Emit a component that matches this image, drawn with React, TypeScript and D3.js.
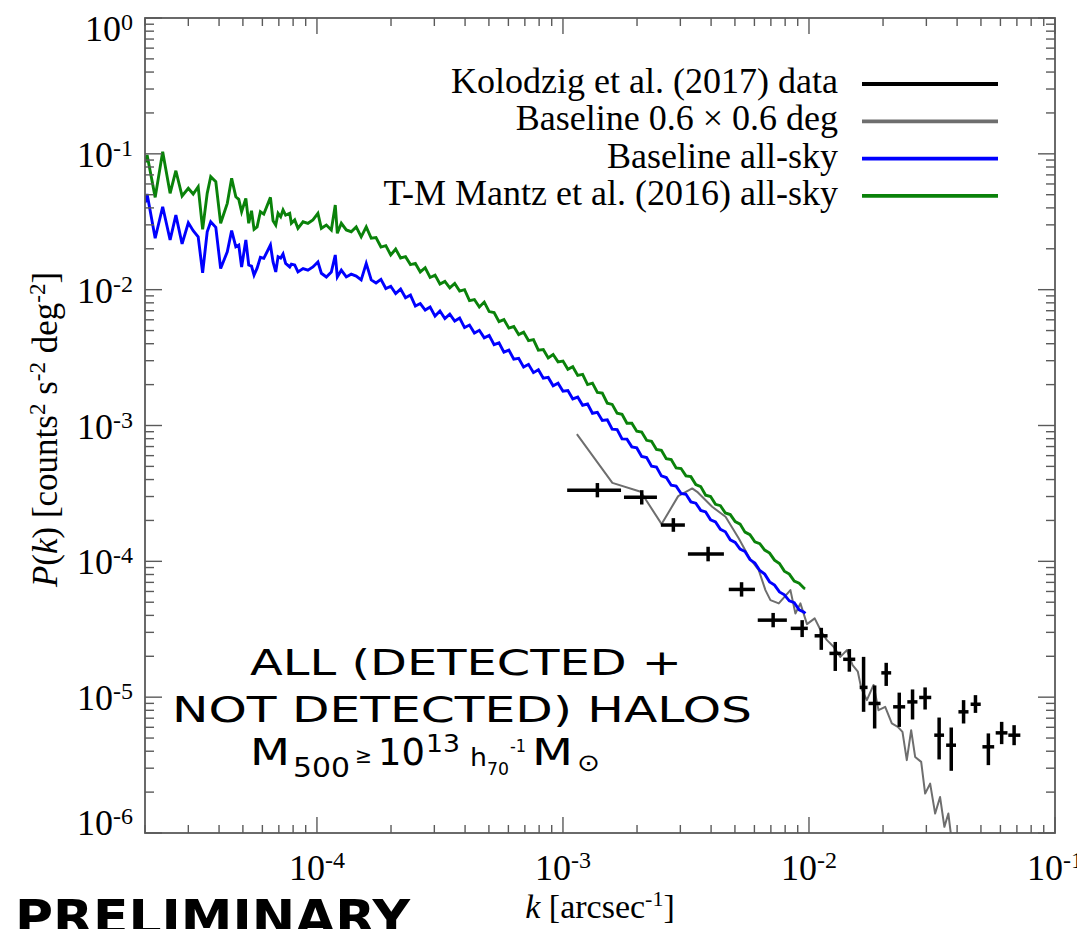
import React from 'react';
import * as d3 from 'd3';

// ---- model k grid (arcsec^-1), shared by both all-sky curves ----
const kModel = [
  2.00e-5, 2.04e-5, 2.20e-5, 2.36e-5, 2.53e-5, 2.67e-5, 2.83e-5, 3.00e-5, 3.14e-5, 3.29e-5,
  3.43e-5, 3.58e-5, 3.70e-5, 3.88e-5, 4.06e-5, 4.32e-5, 4.50e-5, 4.68e-5, 4.81e-5, 4.94e-5,
  5.14e-5, 5.28e-5, 5.42e-5, 5.55e-5, 5.71e-5, 5.89e-5, 6.08e-5, 6.47e-5, 6.63e-5, 6.80e-5,
  6.95e-5, 7.12e-5, 7.28e-5, 7.46e-5,
  7.75e-5, 7.87e-5, 8.12e-5, 8.37e-5, 8.78e-5, 9.19e-5, 9.63e-5, 1.009e-4, 1.042e-4, 1.092e-4,
  1.144e-4, 1.187e-4, 1.210e-4, 1.256e-4, 1.316e-4, 1.378e-4, 1.444e-4, 1.513e-4, 1.586e-4, 1.662e-4,
  1.738e-4, 1.820e-4, 1.905e-4, 1.995e-4, 2.089e-4, 2.188e-4, 2.291e-4, 2.399e-4, 2.512e-4, 2.630e-4,
  2.754e-4, 2.884e-4, 3.020e-4, 3.162e-4, 3.311e-4, 3.467e-4, 3.631e-4, 3.802e-4, 3.981e-4, 4.169e-4,
  4.365e-4, 4.571e-4, 4.786e-4, 5.012e-4, 5.248e-4, 5.495e-4, 5.754e-4, 6.026e-4, 6.310e-4, 6.607e-4,
  6.918e-4, 7.244e-4, 7.586e-4, 7.943e-4, 8.318e-4, 8.710e-4, 9.120e-4, 9.550e-4, 1.000e-3, 1.047e-3,
  1.096e-3, 1.148e-3, 1.202e-3, 1.259e-3, 1.318e-3, 1.380e-3, 1.445e-3, 1.514e-3, 1.585e-3, 1.660e-3,
  1.738e-3, 1.820e-3, 1.905e-3, 1.995e-3, 2.089e-3, 2.188e-3, 2.291e-3, 2.399e-3, 2.512e-3, 2.630e-3,
  2.754e-3, 2.884e-3, 3.020e-3, 3.162e-3, 3.311e-3, 3.467e-3, 3.631e-3, 3.802e-3, 3.981e-3, 4.169e-3,
  4.365e-3, 4.571e-3, 4.786e-3, 5.012e-3, 5.248e-3, 5.495e-3, 5.754e-3, 6.026e-3, 6.310e-3, 6.607e-3,
  6.918e-3, 7.244e-3, 7.586e-3, 7.943e-3, 8.318e-3, 8.710e-3, 9.120e-3, 9.550e-3, 9.66e-3,
];

// Baseline all-sky (blue)
const pBaselineAllSky = [
  0.0436, 0.0506, 0.0239, 0.0408, 0.0232, 0.0354, 0.0217, 0.0311, 0.0272, 0.0245,
  0.0133, 0.0267, 0.0316, 0.0288, 0.0143, 0.0190, 0.0272, 0.0207, 0.0213, 0.0147,
  0.0232, 0.0152, 0.0149, 0.0128, 0.0144, 0.0173, 0.0170, 0.0213, 0.0160, 0.0135,
  0.0175, 0.0171, 0.0183, 0.0156,
  0.0147, 0.0154, 0.0152, 0.0135, 0.0143, 0.0139, 0.0147, 0.0160, 0.0132, 0.0124,
  0.0135, 0.0180, 0.0124, 0.0139, 0.0124, 0.0130, 0.0126, 0.0118, 0.0156, 0.0118,
  1.12e-2, 1.19e-2, 1.02e-2, 1.06e-2, 9.36e-3, 1.01e-2, 8.72e-3, 9.13e-3, 7.57e-3, 7.90e-3,
  7.08e-3, 7.45e-3, 6.39e-3, 6.96e-3, 6.13e-3, 6.61e-3, 5.87e-3, 6.18e-3, 5.26e-3, 5.49e-3,
  4.79e-3, 5.02e-3, 4.42e-3, 4.61e-3, 3.94e-3, 4.06e-3, 3.47e-3, 3.59e-3, 3.08e-3, 3.12e-3,
  2.69e-3, 2.82e-3, 2.45e-3, 2.57e-3, 2.23e-3, 2.26e-3, 1.96e-3, 2.05e-3, 1.79e-3, 1.81e-3,
  1.57e-3, 1.62e-3, 1.41e-3, 1.44e-3, 1.23e-3, 1.25e-3, 1.09e-3, 1.10e-3, 9.41e-4, 9.33e-4,
  7.97e-4, 7.94e-4, 6.96e-4, 6.84e-4, 5.92e-4, 5.80e-4, 5.02e-4, 4.94e-4, 4.26e-4, 4.14e-4,
  3.63e-4, 3.58e-4, 3.16e-4, 3.12e-4, 2.74e-4, 2.68e-4, 2.37e-4, 2.31e-4, 2.02e-4, 1.95e-4,
  1.72e-4, 1.65e-4, 1.44e-4, 1.38e-4, 1.23e-4, 1.18e-4, 1.03e-4, 9.72e-5, 8.56e-5, 8.05e-5,
  7.06e-5, 6.69e-5, 5.95e-5, 5.67e-5, 5.12e-5, 4.96e-5, 4.39e-5, 4.23e-5, 4.13e-5,
];

// T-M Mantz et al. (2016) all-sky (green)
const pMantzAllSky = [
  0.0860, 0.0980, 0.0478, 0.1036, 0.0512, 0.0751, 0.0489, 0.0557, 0.0506, 0.0572,
  0.0278, 0.0512, 0.0678, 0.0623, 0.0308, 0.0432, 0.0660, 0.0483, 0.0462, 0.0375,
  0.0470, 0.0308, 0.0381, 0.0278, 0.0290, 0.0375, 0.0360, 0.0478, 0.0322, 0.0299,
  0.0365, 0.0344, 0.0386, 0.0354,
  0.0365, 0.0308, 0.0326, 0.0283, 0.0316, 0.0308, 0.0326, 0.0365, 0.0283, 0.0299,
  0.0275, 0.0420, 0.0260, 0.0308, 0.0275, 0.0267, 0.0290, 0.0245, 0.0290, 0.0239,
  2.42e-2, 2.06e-2, 2.11e-2, 1.80e-2, 1.99e-2, 1.71e-2, 1.75e-2, 1.53e-2, 1.56e-2, 1.35e-2,
  1.45e-2, 1.23e-2, 1.28e-2, 1.10e-2, 1.15e-2, 1.03e-2, 1.11e-2, 9.77e-3, 1.00e-2, 8.31e-3,
  8.46e-3, 7.45e-3, 8.10e-3, 6.90e-3, 6.78e-3, 5.82e-3, 6.02e-3, 5.21e-3, 5.35e-3, 4.67e-3,
  4.87e-3, 4.22e-3, 4.29e-3, 3.59e-3, 3.62e-3, 3.14e-3, 3.33e-3, 2.94e-3, 2.98e-3, 2.59e-3,
  2.71e-3, 2.34e-3, 2.38e-3, 2.00e-3, 2.05e-3, 1.75e-3, 1.73e-3, 1.46e-3, 1.43e-3, 1.23e-3,
  1.21e-3, 1.04e-3, 1.04e-3, 9.08e-4, 8.96e-4, 7.78e-4, 7.66e-4, 6.66e-4, 6.56e-4, 5.69e-4,
  5.61e-4, 4.87e-4, 4.82e-4, 4.26e-4, 4.20e-4, 3.67e-4, 3.55e-4, 3.07e-4, 3.00e-4, 2.63e-4,
  2.57e-4, 2.27e-4, 2.21e-4, 1.96e-4, 1.88e-4, 1.64e-4, 1.57e-4, 1.39e-4, 1.35e-4, 1.21e-4,
  1.15e-4, 1.02e-4, 9.63e-5, 8.47e-5, 8.05e-5, 7.15e-5, 6.90e-5, 6.34e-5, 6.32e-5,
];

// Baseline 0.6 x 0.6 deg (gray)
const kBaselineSmall = [
  1.139e-3, 1.588e-3, 2.070e-3, 2.518e-3, 2.940e-3, 3.352e-3, 3.512e-3, 4.042e-3, 4.580e-3, 5.186e-3,
  5.692e-3, 6.249e-3, 6.652e-3, 6.971e-3, 7.537e-3, 8.405e-3, 8.807e-3, 9.228e-3, 9.815e-3, 1.055e-2,
  1.123e-2, 1.183e-2, 1.259e-2, 1.341e-2, 1.426e-2, 1.504e-2, 1.580e-2, 1.631e-2, 1.719e-2, 1.830e-2,
  1.917e-2, 2.041e-2, 2.171e-2, 2.296e-2, 2.399e-2, 2.498e-2, 2.602e-2, 2.701e-2, 2.858e-2, 2.966e-2,
  3.108e-2, 3.257e-2, 3.411e-2, 3.551e-2, 3.686e-2, 3.80e-2,
];
const pBaselineSmall = [
  8.65e-4, 3.78e-4, 3.25e-4, 1.88e-4, 3.02e-4, 3.44e-4, 3.25e-4, 2.52e-4, 2.13e-4, 1.474e-4,
  1.079e-4, 8.61e-5, 6.14e-5, 5.18e-5, 4.90e-5, 6.14e-5, 4.13e-5, 4.90e-5, 3.45e-5, 3.80e-5,
  3.03e-5, 2.63e-5, 2.35e-5, 1.98e-5, 2.22e-5, 1.72e-5, 1.54e-5, 1.16e-5, 9.50e-6, 1.23e-5,
  8.02e-6, 8.48e-6, 6.40e-6, 6.05e-6, 5.55e-6, 3.44e-6, 5.71e-6, 3.63e-6, 3.34e-6, 1.95e-6,
  2.31e-6, 1.39e-6, 1.84e-6, 1.11e-6, 1.39e-6, 8.85e-7,
];

// Kolodzig et al. (2017) data points
const kData = [1.380e-3, 2.09e-3, 2.81e-3, 3.89e-3, 5.32e-3, 7.15e-3, 9.38e-3, 1.122e-2, 1.279e-2, 1.459e-2, 1.667e-2, 1.849e-2, 2.06e-2, 2.328e-2, 2.636e-2, 2.965e-2, 3.381e-2, 3.787e-2, 4.25e-2, 4.75e-2, 5.36e-2, 6.07e-2, 6.82e-2];
const kDataLo = [1.040e-3, 1.77e-3, 2.50e-3, 3.22e-3, 4.72e-3, 6.19e-3, 8.43e-3, 1.054e-2, 1.211e-2, 1.377e-2, 1.607e-2, 1.746e-2, 1.968e-2, 2.198e-2, 2.51e-2, 2.805e-2, 3.23e-2, 3.61e-2, 4.05e-2, 4.54e-2, 5.07e-2, 5.74e-2, 6.46e-2];
const kDataHi = [1.722e-3, 2.41e-3, 3.13e-3, 4.51e-3, 6.03e-3, 8.13e-3, 9.89e-3, 1.19e-2, 1.352e-2, 1.542e-2, 1.730e-2, 1.954e-2, 2.158e-2, 2.460e-2, 2.76e-2, 3.14e-2, 3.54e-2, 3.96e-2, 4.45e-2, 4.99e-2, 5.66e-2, 6.41e-2, 7.23e-2];
const pData = [3.34e-4, 2.96e-4, 1.85e-4, 1.13e-4, 6.21e-5, 3.69e-5, 3.21e-5, 2.83e-5, 2.10e-5, 1.90e-5, 1.18e-5, 8.99e-6, 1.51e-5, 8.49e-6, 9.23e-6, 9.95e-6, 5.25e-6, 4.43e-6, 7.80e-6, 8.87e-6, 4.31e-6, 5.46e-6, 5.25e-6];
const pDataLo = [2.96e-4, 2.62e-4, 1.65e-4, 1.00e-4, 5.50e-5, 3.27e-5, 2.77e-5, 2.23e-5, 1.56e-5, 1.54e-5, 7.80e-6, 5.88e-6, 1.21e-5, 6.04e-6, 6.85e-6, 8.11e-6, 3.48e-6, 2.87e-6, 6.40e-6, 7.66e-6, 3.16e-6, 4.51e-6, 4.43e-6];
const pDataHi = [3.77e-4, 3.34e-4, 2.08e-4, 1.28e-4, 7.02e-5, 4.17e-5, 3.69e-5, 3.24e-5, 2.55e-5, 2.26e-5, 1.98e-5, 1.22e-5, 1.79e-5, 1.08e-5, 1.14e-5, 1.18e-5, 7.08e-6, 5.98e-6, 9.51e-6, 1.035e-5, 5.41e-6, 6.58e-6, 6.22e-6];

const xTickValues = [1e-4, 1e-3, 1e-2, 1e-1];
const xTickExps = ['-4', '-3', '-2', '-1'];
const yTickValues = [1, 1e-1, 1e-2, 1e-3, 1e-4, 1e-5, 1e-6];
const yTickExps = ['0', '-1', '-2', '-3', '-4', '-5', '-6'];

const legendLabels = [
  'Kolodzig et al. (2017) data',
  'Baseline 0.6 \u00d7 0.6 deg',
  'Baseline all-sky',
  'T-M Mantz et al. (2016) all-sky',
];
const legendColors = ['#000000', '#6e6e6e', '#0000ff', '#0a820a'];

const SERIF = '"Liberation Serif", "Times New Roman", "DejaVu Serif", serif';
const SANS = '"DejaVu Sans", "Lato", sans-serif';

export default function App() {
  const W = 1077, H = 929;
  const L = 145, R = 1055, T = 18, B = 833;
  const x = d3.scaleLog().domain([2e-5, 1e-1]).range([L, R]);
  const y = d3.scaleLog().domain([1e-6, 1]).range([B, T]);

  const line = d3.line<[number, number]>().x(d => x(d[0])).y(d => y(d[1]));
  const blue = line(kModel.map((k, i) => [k, pBaselineAllSky[i]] as [number, number])) || '';
  const green = line(kModel.map((k, i) => [k, pMantzAllSky[i]] as [number, number])) || '';
  const gray = line(kBaselineSmall.map((k, i) => [k, pBaselineSmall[i]] as [number, number])) || '';

  const isMajor = (v: number) => Math.abs(Math.log10(v) - Math.round(Math.log10(v))) < 1e-6;
  const xt = x.ticks();
  const yt = y.ticks();
  const axisColor = '#5a5a5a';

  return (
    <svg width={W} height={H} style={{ position: 'absolute', left: 0, top: 0, background: '#fff' }}>
      <defs>
        <clipPath id="plotclip">
          <rect x={L} y={T} width={R - L} height={B - T} />
        </clipPath>
      </defs>
      <rect x={0} y={0} width={W} height={H} fill="#fff" />

      {/* data */}
      <g clipPath="url(#plotclip)">
        <path d={gray} fill="none" stroke={legendColors[1]} strokeWidth={2} strokeLinejoin="round" />
        <path d={green} fill="none" stroke={legendColors[3]} strokeWidth={2.9} strokeLinejoin="miter" />
        <path d={blue} fill="none" stroke={legendColors[2]} strokeWidth={2.9} strokeLinejoin="miter" />
        {kData.map((k, i) => (
          <g key={i} stroke="#000" strokeWidth={3.5}>
            <line x1={x(kDataLo[i])} x2={x(kDataHi[i])} y1={y(pData[i])} y2={y(pData[i])} />
            <line x1={x(k)} x2={x(k)} y1={y(pDataLo[i])} y2={y(pDataHi[i])} />
          </g>
        ))}
      </g>

      {/* frame */}
      <rect x={L} y={T} width={R - L} height={B - T} fill="none" stroke={axisColor} strokeWidth={1.8} />
      {xt.map((v, i) => {
        const len = isMajor(v) ? 16 : 8;
        const px = x(v);
        return (
          <g key={'xt' + i} stroke={axisColor} strokeWidth={1.4}>
            <line x1={px} x2={px} y1={B} y2={B - len} />
            <line x1={px} x2={px} y1={T} y2={T + len} />
          </g>
        );
      })}
      {yt.map((v, i) => {
        const len = isMajor(v) ? 17 : 9;
        const py = y(v);
        return (
          <g key={'yt' + i} stroke={axisColor} strokeWidth={1.4}>
            <line x1={L} x2={L + len} y1={py} y2={py} />
            <line x1={R} x2={R - len} y1={py} y2={py} />
          </g>
        );
      })}

      {/* y tick labels */}
      {yTickValues.map((v, i) => {
        let by = y(v) + 13;
        if (i === 0) by = y(v) + 23;
        if (i === yTickValues.length - 1) by = y(v) + 2;
        return (
          <text key={'yl' + i} x={133} y={by} textAnchor="end" fontFamily={SERIF} fontSize={36} fill="#000">
            10<tspan fontSize={24} dy={-11}>{yTickExps[i]}</tspan>
          </text>
        );
      })}
      {/* x tick labels */}
      {xTickValues.map((v, i) => (
        <text key={'xl' + i} x={x(v)} y={880} textAnchor="middle" fontFamily={SERIF} fontSize={36} fill="#000">
          10<tspan fontSize={24} dy={-12}>{xTickExps[i]}</tspan>
        </text>
      ))}

      {/* axis titles */}
      <text x={(L + R) / 2} y={918} textAnchor="middle" fontFamily={SERIF} fontSize={34} fill="#000">
        <tspan fontStyle="italic">k</tspan> [arcsec<tspan fontSize={22} dy={-12}>-1</tspan><tspan dy={12}>]</tspan>
      </text>
      <text transform={`translate(57, ${(T + B) / 2 + 4}) rotate(-90)`} textAnchor="middle" fontFamily={SERIF} fontSize={35} fill="#000">
        <tspan fontStyle="italic">P</tspan>(<tspan fontStyle="italic">k</tspan>) [counts<tspan fontSize={23} dy={-12}>2</tspan><tspan dy={12}> s</tspan><tspan fontSize={23} dy={-12}>-2</tspan><tspan dy={12}> deg</tspan><tspan fontSize={23} dy={-12}>-2</tspan><tspan dy={12}>]</tspan>
      </text>

      {/* legend */}
      {legendLabels.map((lab, i) => {
        const ly = 84 + i * 37.3;
        return (
          <g key={'lg' + i}>
            <text x={838} y={ly + 9} textAnchor="end" fontFamily={SERIF} fontSize={36} fill="#000">{lab}</text>
            <line x1={862} x2={998} y1={ly} y2={ly} stroke={legendColors[i]} strokeWidth={3.8} />
          </g>
        );
      })}

      {/* annotation */}
      <g fontFamily={SANS} fill="#000">
        <text x={250} y={675} fontSize={36} textLength={432} lengthAdjust="spacingAndGlyphs">ALL (DETECTED +</text>
        <text x={172} y={722} fontSize={36} textLength={580} lengthAdjust="spacingAndGlyphs">NOT DETECTED) HALOS</text>
        <text x={250} y={765} fontSize={37} textLength={40} lengthAdjust="spacingAndGlyphs">M</text>
        <text x={293} y={777} fontSize={26} textLength={57} lengthAdjust="spacingAndGlyphs">500</text>
        <text x={355} y={763} fontSize={22} textLength={17} lengthAdjust="spacingAndGlyphs">{'\u2265'}</text>
        <text x={378} y={765} fontSize={37} textLength={47} lengthAdjust="spacingAndGlyphs">10</text>
        <text x={426} y={752} fontSize={25} textLength={34} lengthAdjust="spacingAndGlyphs">13</text>
        <text x={470} y={766} fontSize={25} textLength={17} lengthAdjust="spacingAndGlyphs">h</text>
        <text x={487} y={775} fontSize={18} textLength={22} lengthAdjust="spacingAndGlyphs">70</text>
        <text x={510} y={752} fontSize={18} textLength={16} lengthAdjust="spacingAndGlyphs">-1</text>
        <text x={532} y={765} fontSize={37} textLength={41} lengthAdjust="spacingAndGlyphs">M</text>
        <text x={577} y={771} fontSize={24} textLength={23} lengthAdjust="spacingAndGlyphs">{'\u2299'}</text>
        <text x={15} y={935} fontSize={50} fontWeight="bold" textLength={395} lengthAdjust="spacingAndGlyphs">PRELIMINARY</text>
      </g>
    </svg>
  );
}
